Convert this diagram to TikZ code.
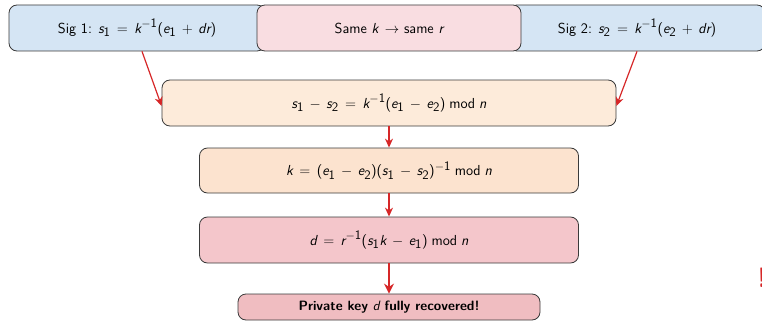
\documentclass[tikz,border=0pt]{standalone}
\usetikzlibrary{arrows.meta}
% sans-serif math, beamer style
\SetSymbolFont{operators}{normal}{TU}{lmss}{m}{n}
\SetSymbolFont{letters}{normal}{TU}{lmss}{m}{it}
\SetSymbolFont{operators}{bold}{TU}{lmss}{b}{n}
\SetSymbolFont{letters}{bold}{TU}{lmss}{m}{it}
\DeclareMathSizes{14.5}{14.5}{13}{10}
\DeclareMathSizes{13.5}{13.5}{11}{9}
\renewcommand{\familydefault}{\sfdefault}
\definecolor{sigblue}{HTML}{D5E5F4}
\definecolor{samepink}{HTML}{F9DDE1}
\definecolor{peachA}{HTML}{FDEBDA}
\definecolor{peachB}{HTML}{FCE3CF}
\definecolor{roseA}{HTML}{F4C6CB}
\definecolor{roseB}{HTML}{F0BDC1}
\definecolor{edgegray}{HTML}{3A3A3A}
\definecolor{arrowred}{HTML}{D62728}
\newcommand{\boxfont}{\fontsize{14.5}{17}\selectfont
  \thickmuskip=8mu plus 2mu\medmuskip=7mu plus 2mu}
\begin{document}
\begin{tikzpicture}[x=1pt,y=-1pt,
  box/.style={draw=edgegray, line width=0.8pt, rounded corners=8pt,
    inner sep=0pt, align=center, font=\boxfont},
  flow/.style={draw=arrowred, line width=1.2pt, -{Stealth[length=9pt,width=8pt]}},
  bigflow/.style={draw=arrowred, line width=2pt, -{Stealth[length=10pt,width=10pt]}}]
\useasboundingbox (0,0) rectangle (762,321);

% the two signatures, with the shared nonce box on top
\node[box, fill=sigblue, minimum width=256pt, minimum height=46pt] (sig1) at (137,28)
  {Sig 1: $s_1 = k^{-1}(e_1 + dr)$};
\node[box, fill=sigblue, minimum width=256pt, minimum height=46pt] (sig2) at (637,28)
  {Sig 2: $s_2 = k^{-1}(e_2 + dr)$};
\node[box, fill=samepink, minimum width=264pt, minimum height=46pt] (same) at (389,28)
  {Same $k \rightarrow$ same $r$};

% derivation chain
\node[box, fill=peachA, minimum width=454pt, minimum height=46pt] (diff) at (389,103)
  {$s_1 - s_2 = k^{-1}(e_1 - e_2) \bmod n$};
\node[box, fill=peachB, minimum width=379pt, minimum height=45pt] (knonce) at (389,170.5)
  {$k = (e_1 - e_2)(s_1 - s_2)^{-1} \bmod n$};
\node[box, fill=roseA, minimum width=379pt, minimum height=46pt] (dkey) at (389,240)
  {$d = r^{-1}(s_1 k - e_1) \bmod n$};
\node[box, fill=roseB, minimum width=302pt, minimum height=26pt,
  font=\fontsize{13.5}{16}\selectfont\bfseries] (done) at (389,307)
  {Private key $d$ fully recovered!};

\node[anchor=west, inner sep=0pt, text=arrowred,
  font=\fontsize{28}{30}\selectfont\bfseries] (bang) at (757,278) {!};

% connectors
\draw[flow] ([xshift=5pt]sig1.south) -- ([yshift=-3pt]diff.west);
\draw[flow] (sig2.south) -- ([yshift=-3pt]diff.east);
\draw[flow] (diff.south) -- (knonce.north);
\draw[flow] (knonce.south) -- (dkey.north);
\draw[bigflow] (dkey.south) -- (done.north);
\end{tikzpicture}
\end{document}
